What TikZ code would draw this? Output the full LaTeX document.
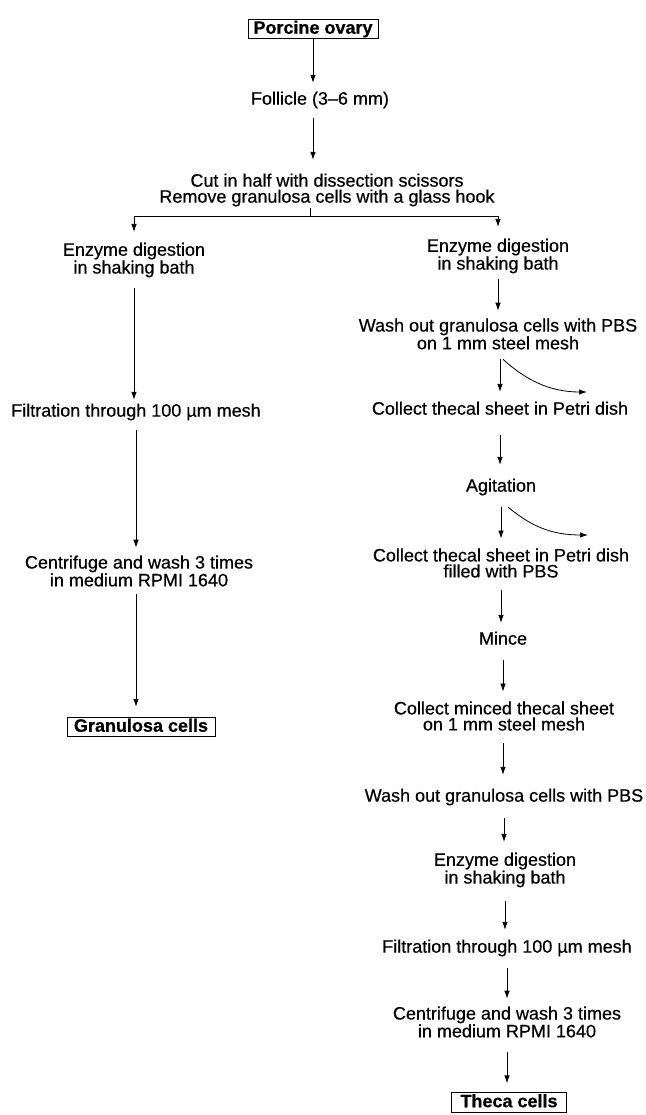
\documentclass[tikz,border=0pt]{standalone}
\usepackage{fontspec}
\setmainfont{Liberation Sans}[FakeBold=0.5]
\usetikzlibrary{arrows.meta}
\tikzset{
  txt/.style={font=\fontsize{18}{16}\selectfont, inner sep=1pt, align=center},
  one/.style={font=\fontsize{18}{16}\selectfont, inner sep=1pt, text height=13pt, text depth=3.7pt},
  boxed/.style={draw, line width=0.8pt, font=\fontsize{18}{16}\selectfont\bfseries, inner xsep=4pt, inner ysep=1.5pt, text height=13pt, text depth=3.5pt},
  conn/.style={draw, line width=0.8pt},
  arr/.style={conn, -{Latex[length=8pt,width=5.5pt]}}
}
\begin{document}
\begin{tikzpicture}[x=1pt,y=1pt]
\useasboundingbox (0,0) rectangle (645,-1115);
% main trunk
\node[boxed, minimum width=130pt] (ovary) at (313,-29) {Porcine ovary};
\node[one] (foll) at (320,-100) {Follicle (3--6 mm)};
\node[txt] (cut) at (327,-190) {Cut in half with dissection scissors\\Remove granulosa cells with a glass hook};
\coordinate (split) at (310,-216);
% left column
\node[txt] (enzL) at (134,-260) {Enzyme digestion\\in shaking bath};
\node[one] (filtL) at (136,-412) {Filtration through 100 µm mesh};
\node[txt] (centL) at (139,-571) {Centrifuge and wash 3 times\\in medium RPMI 1640};
\node[boxed, minimum width=148pt] (granL) at (141,-727) {Granulosa cells};
% right column
\node[txt] (enzR) at (498,-256) {Enzyme digestion\\in shaking bath};
\node[txt] (washR) at (498,-334) {Wash out granulosa cells with PBS\\on 1 mm steel mesh};
\node[one] (coll1) at (500,-410) {Collect thecal sheet in Petri dish};
\node[one] (agit) at (501,-487) {Agitation};
\node[txt] (coll2) at (501,-563) {Collect thecal sheet in Petri dish\\filled with PBS};
\node[one] (mince) at (503,-640) {Mince};
\node[txt] (coll3) at (504,-716) {Collect minced thecal sheet\\on 1 mm steel mesh};
\node[one] (wash2) at (504,-797) {Wash out granulosa cells with PBS};
\node[txt] (enz2) at (505,-870) {Enzyme digestion\\in shaking bath};
\node[one] (filt2) at (507,-948) {Filtration through 100 µm mesh};
\node[txt] (cent2) at (507,-1022) {Centrifuge and wash 3 times\\in medium RPMI 1640};
\node[boxed, minimum width=115pt] (theca) at (509,-1102.5) {Theca cells};
\coordinate (out1) at (587,-392);
\coordinate (out2) at (588,-535);
% connectors
\draw[arr, shorten >=7.6pt] (ovary.south) -- (ovary.south |- foll.north);
\draw[arr, shorten <=8.7pt, shorten >=12.6pt] (foll.south -| ovary.south) -- (cut.north -| ovary.south);
\draw[conn] (cut.south -| split) -- (split);
\draw[arr, shorten >=9.6pt] (split) -| (enzL.north);
\draw[arr, shorten >=10.6pt] (split) -| (enzR.north);
% left
\draw[arr, shorten <=9.6pt, shorten >=2.7pt] (enzL.south) -- (enzL.south |- filtL.north);
\draw[arr, shorten <=8.7pt, shorten >=6.6pt] (filtL.south) -- (filtL.south |- centL.north);
\draw[arr, shorten <=6pt, shorten >=10pt] (centL.south -| filtL.south) -- (granL.north -| filtL.south);
% right
\draw[arr, shorten <=4.6pt, shorten >=6.6pt] (enzR.south) -- (enzR.south |- washR.north);
\draw[arr, shorten <=8.6pt, shorten >=8.6pt] ([xshift=2pt]washR.south) -- ([xshift=2pt]washR.south |- coll1.north);
\draw[arr] ([xshift=5pt,yshift=-8.6pt]washR.south) .. controls +(22,-20) and +(-38,0) .. (out1);
\draw[arr, shorten <=15.6pt, shorten >=12.6pt] (coll1.south) -- (coll1.south |- agit.north);
\draw[arr, shorten <=10.6pt, shorten >=8.6pt] (agit.south) -- (agit.south |- coll2.north);
\draw[arr] ([xshift=7pt,yshift=-10.6pt]agit.south) .. controls +(22,-18) and +(-38,0) .. (out2);
\draw[arr, shorten <=11.6pt, shorten >=7.6pt] (coll2.south) -- (coll2.south |- mince.north);
\draw[arr, shorten <=10.6pt, shorten >=8.6pt] (mince.south) -- (mince.south |- coll3.north);
\draw[arr, shorten <=11.6pt, shorten >=12.6pt] (coll3.south -| mince.south) -- (wash2.north -| mince.south);
\draw[arr, shorten <=11.6pt, shorten >=9.6pt] (wash2.south) -- (wash2.south |- enz2.north);
\draw[arr, shorten <=12.6pt, shorten >=8.6pt] (enz2.south) -- (enz2.south |- filt2.north);
\draw[arr, shorten <=10.6pt, shorten >=6.6pt] (filt2.south) -- (filt2.south |- cent2.north);
\draw[arr, shorten <=13.6pt, shorten >=9pt] (cent2.south) -- (cent2.south |- theca.north);
\end{tikzpicture}
\end{document}
